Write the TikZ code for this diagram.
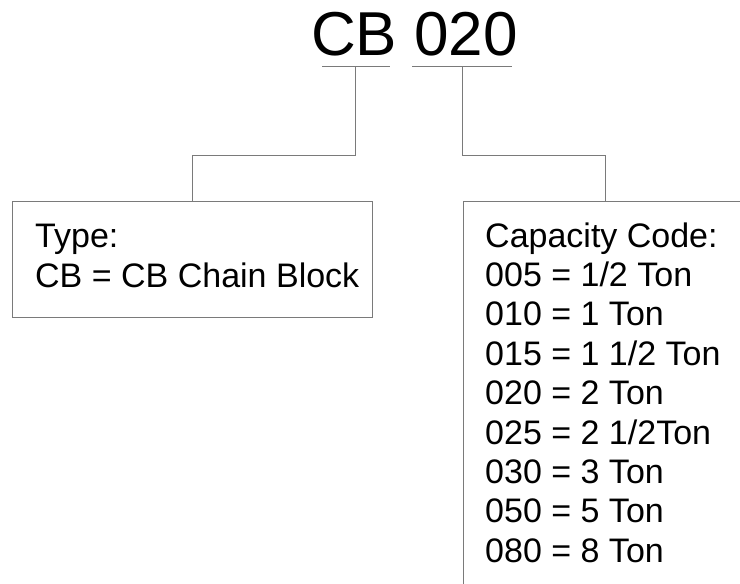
\documentclass[tikz,border=0pt]{standalone}
\usepackage{fontspec}
\setmainfont{Liberation Sans}
\definecolor{linegray}{HTML}{7A7A7A}
\begin{document}
\begin{tikzpicture}[x=1pt,y=-1pt,
  conn/.style={draw=linegray, line width=1pt},
  boxline/.style={draw=linegray, line width=1pt},
  bodytxt/.style={anchor=base west, inner sep=0pt, font=\fontsize{34}{40}\selectfont, text=black},
  titletxt/.style={anchor=base west, inner sep=0pt, font=\fontsize{62}{70}\selectfont, text=black}]
\useasboundingbox (0,0) rectangle (740,584);
% title
\node[titletxt] (title) at (311,55) {CB 020};
% underlines
\coordinate (cbL) at (322,66);
\coordinate (cbR) at (390,66);
\coordinate (cbM) at (355,66);
\coordinate (codeL) at (412,66);
\coordinate (codeR) at (512,66);
\coordinate (codeM) at (462,66);
\draw[conn] (cbL) -- (cbR);
\draw[conn] (codeL) -- (codeR);
% left box
\node[boxline, rectangle, minimum width=360pt, minimum height=116pt, anchor=north west, inner sep=0pt] (typebox) at (12,201) {};
\node[bodytxt] (t1) at (35,247) {Type:};
\node[bodytxt] (t2) at (35,287) {CB = CB Chain Block};
% right box (open to the right and bottom)
\coordinate (capTL) at (463,201);
\coordinate (capTR) at (740,201);
\coordinate (capBL) at (463,584);
\draw[boxline] (capTR) -- (capTL) -- (capBL);
\coordinate (capTop) at (605,201);
\foreach \i/\t in {0/{Capacity Code:},1/{005 = 1/2 Ton},2/{010 = 1 Ton},3/{015 = 1 1/2 Ton},4/{020 = 2 Ton},5/{025 = 2 1/2Ton},6/{030 = 3 Ton},7/{050 = 5 Ton},8/{080 = 8 Ton}}{
  \node[bodytxt] (c\i) at (485,{247+\i*39.4}) {\t};
}
% connectors
\coordinate (cbBend) at (355,155);
\coordinate (typeBend) at (192,155);
\draw[conn] (cbM) -- (cbBend) -- (typeBend) -- (typebox.north -| typeBend);
\coordinate (codeBend) at (462,155);
\coordinate (capBend) at (605,155);
\draw[conn] (codeM) -- (codeBend) -- (capBend) -- (capTop);
\end{tikzpicture}
\end{document}
